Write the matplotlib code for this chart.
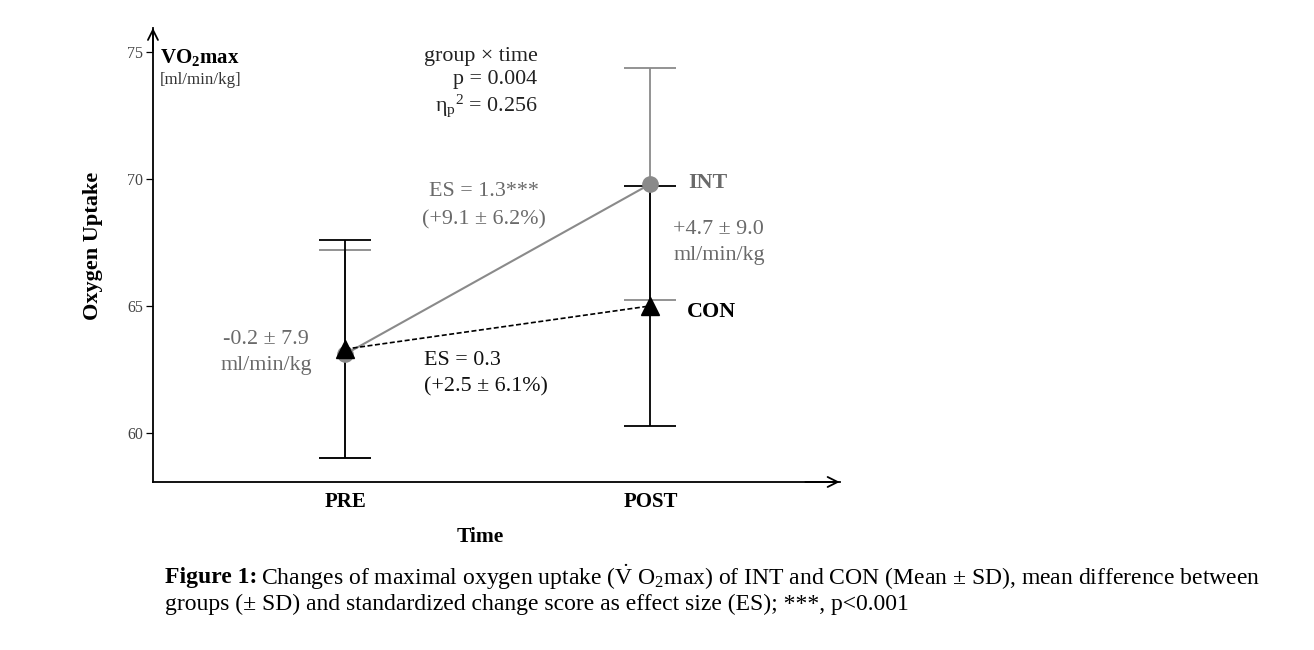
import matplotlib
matplotlib.use("Agg")
import matplotlib.pyplot as plt

plt.rcParams['font.family'] = ['Liberation Serif', 'DejaVu Serif']
plt.rcParams['mathtext.fontset'] = 'custom'
plt.rcParams['mathtext.rm'] = 'Liberation Serif'
plt.rcParams['mathtext.bf'] = 'Liberation Serif:bold'
plt.rcParams['mathtext.it'] = 'Liberation Serif:italic'

# values
time_labels = ['PRE', 'POST']
time_pos = [1, 2]
int_mean = [63.1, 69.8]
int_sd = [4.1, 4.55]
con_mean = [63.3, 65.0]
con_sd = [4.3, 4.73]
y_ticks = [60, 65, 70, 75]

GRAY = '#8a8a8a'
TXT_GRAY = '#6a6a6a'
FS = 15.8

fig = plt.figure(figsize=(13.14, 6.5), dpi=100)
ax = fig.add_axes([0.1164, 0.2585, 0.5226, 0.6985])
ax.set_xlim(0.37, 2.62)
ax.set_ylim(58.07, 75.94)

# error bars first, INT under CON
ax.errorbar(time_pos, int_mean, yerr=int_sd, fmt='none', ecolor=GRAY,
            elinewidth=1.3, capsize=19, capthick=1.3, zorder=2)
ax.errorbar(time_pos, con_mean, yerr=con_sd, fmt='none', ecolor='black',
            elinewidth=1.3, capsize=19, capthick=1.3, zorder=3)

ax.plot(time_pos, int_mean, color=GRAY, lw=1.5, zorder=4)
ax.plot(time_pos, int_mean, 'o', color=GRAY, ms=11, zorder=4)
ax.plot(time_pos, con_mean, color='black', lw=1.2, ls=(0, (3, 1.5)), zorder=5)
ax.plot(time_pos, con_mean, '^', color='black', ms=13, zorder=6)

# axes look
for s in ['top', 'right']:
    ax.spines[s].set_visible(False)
ax.spines['left'].set_linewidth(1.3)
ax.spines['bottom'].set_linewidth(1.3)
ax.annotate('', xy=(0, 1.0), xytext=(0, 0.95), xycoords='axes fraction',
            arrowprops=dict(arrowstyle='->', lw=1.3, color='black', shrinkA=0, shrinkB=0,
                            mutation_scale=18))
ax.annotate('', xy=(1.0, 0), xytext=(0.95, 0), xycoords='axes fraction',
            arrowprops=dict(arrowstyle='->', lw=1.3, color='black', shrinkA=0, shrinkB=0,
                            mutation_scale=18))

ax.set_yticks(y_ticks)
ax.tick_params(axis='y', length=5, width=0.9, labelsize=11.5, labelcolor='#444444', pad=2)
ax.set_xticks(time_pos)
ax.set_xticklabels(time_labels, fontweight='bold', fontsize=15)
ax.tick_params(axis='x', length=0, pad=7)

ax.set_ylabel('Oxygen Uptake', fontweight='bold', fontsize=16)
ax.yaxis.set_label_coords(-0.073, 0.52)
ax.set_xlabel('Time', fontweight='bold', fontsize=15.5)
ax.xaxis.set_label_coords(0.477, -0.099)

# annotations
ax.text(0.393, 74.76, r'$\mathbf{VO_2max}$', fontsize=15, ha='left', va='center')
ax.text(0.393, 73.9, '[ml/min/kg]', fontsize=12.2, ha='left', va='center', color='#333333')

ax.text(1.63, 74.8, 'group \u00d7 time', fontsize=FS, ha='right', va='center', color='#222222')
ax.text(1.63, 73.9, 'p = 0.004', fontsize=FS, ha='right', va='center', color='#222222')
ax.text(1.63, 72.87, '\u03b7$_\\mathrm{p}$$^\\mathrm{2}$ = 0.256', fontsize=FS, ha='right',
        va='center', color='#222222')

ax.text(1.456, 69.49, 'ES = 1.3***', fontsize=FS, ha='center', va='center', color=TXT_GRAY)
ax.text(1.456, 68.39, '(+9.1 \u00b1 6.2%)', fontsize=FS, ha='center', va='center', color=TXT_GRAY)

ax.text(2.125, 69.84, 'INT', fontsize=FS, fontweight='bold', ha='left', va='center', color=TXT_GRAY)
ax.text(2.075, 67.99, '+4.7 \u00b1 9.0', fontsize=FS, ha='left', va='center', color=TXT_GRAY)
ax.text(2.075, 66.97, 'ml/min/kg', fontsize=FS, ha='left', va='center', color=TXT_GRAY)
ax.text(2.118, 64.76, 'CON', fontsize=FS, fontweight='bold', ha='left', va='center', color='black')

ax.text(0.741, 63.66, '-0.2 \u00b1 7.9', fontsize=FS, ha='center', va='center', color=TXT_GRAY)
ax.text(0.741, 62.64, 'ml/min/kg', fontsize=FS, ha='center', va='center', color=TXT_GRAY)

ax.text(1.259, 62.87, 'ES = 0.3', fontsize=FS, ha='left', va='center', color='#111111')
ax.text(1.259, 61.81, '(+2.5 \u00b1 6.1%)', fontsize=FS, ha='left', va='center', color='#111111')

# caption
cap_x = 165 / 1314
CAP = 17
t = fig.text(cap_x, 0.1123, 'Figure 1:', fontsize=CAP, fontweight='bold', va='center')
fig.canvas.draw()
bb = t.get_window_extent(fig.canvas.get_renderer())
x2 = bb.x1 / fig.bbox.width + 0.003
fig.text(x2, 0.1123, r'Changes of maximal oxygen uptake ($\dot{\mathrm{V}}$ O$_2$max) of INT and CON '
         '(Mean \u00b1 SD), mean difference between', fontsize=CAP, va='center')
fig.text(cap_x, 0.0708, 'groups (\u00b1 SD) and standardized change score as effect size (ES); '
         '***, p<0.001', fontsize=CAP, va='center')

fig.savefig('out.png', dpi=100)
